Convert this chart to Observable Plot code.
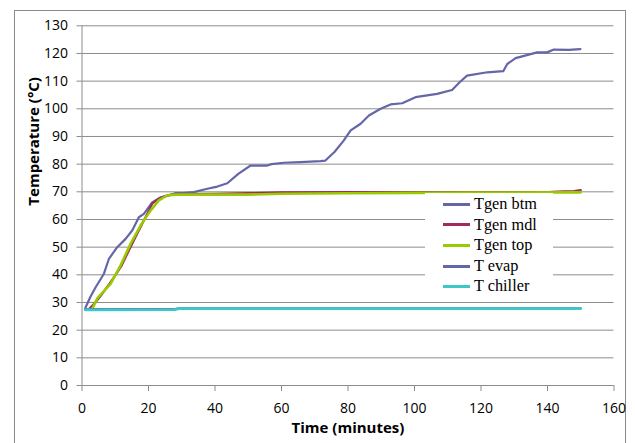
<!DOCTYPE html>
<html><head><meta charset="utf-8">
<script src="https://cdn.jsdelivr.net/npm/d3@7"></script>
<script src="https://cdn.jsdelivr.net/npm/@observablehq/plot@0.6"></script>
<style>
html,body{margin:0;padding:0;background:#fff;overflow:hidden;width:635px;height:443px;}
#wrap{position:relative;width:635px;height:443px;}
#border{position:absolute;left:14px;top:10px;width:612px;height:460px;border:1px solid #8a8a8a;box-sizing:border-box;}
#chart{position:absolute;left:0;top:0;}
#legend{position:absolute;left:425px;top:193px;width:128px;height:103px;background:#fff;font-family:"Liberation Serif","Times New Roman",serif;font-size:16.3px;color:#000;}
.item{position:absolute;left:18px;height:20px;line-height:20px;white-space:nowrap;}
.sw{display:inline-block;width:27px;height:3px;vertical-align:middle;margin-right:4px;position:relative;top:-1px;}
</style></head>
<body><div id="wrap"><div id="border"></div><div id="chart"></div><div id="legend"></div></div>
<script>
const seriesNames = ["Tgen btm","Tgen mdl","Tgen top","T evap","T chiller"];
const seriesColors = ["#6466A8","#A02A60","#99CC00","#6466A8","#3CC8C8"];
const xTicks = [0,20,40,60,80,100,120,140,160];
const yTicks = [0,10,20,30,40,50,60,70,80,90,100,110,120,130];

const btmX = [1,2.5,4.1,6.6,8.1,10.6,13.1,15.1,17.1,18.6,21.1,23.6,25.6,28,30.6,33.6,37.7,40.7,43.7,47,50.7,55.7,57,60.7,65.7,71.7,73.2,76,78.7,80.8,83.8,86.3,89.8,92.8,96.3,100.3,106.8,111.3,113.5,115.8,121.9,126.7,127.9,130.4,136.9,139.9,141.9,146.4,149.9];
const btmY = [28,32,35.5,40.4,45.8,50,53,56,60.8,62,66.2,68,68.5,69.5,69.5,69.9,71.1,71.9,73.1,76.5,79.5,79.5,80,80.5,80.7,81.1,81.3,84.5,88.5,92.2,94.6,97.6,100,101.6,102,104.2,105.4,106.8,109.5,112,113.2,113.6,116.2,118.3,120.4,120.4,121.4,121.3,121.6];
const mdlX = [2,4,6,8.1,10.6,12,14.1,16.6,19.6,21.1,23.1,25,27,30,40,50,60,80,100,120,140,145,148,150];
const mdlY = [27.5,30,33,36.5,40.9,43.5,48.8,54.8,62,65.7,67.5,68.5,69,69.2,69.3,69.5,69.8,69.9,69.9,69.9,69.9,70.2,70.3,70.6];
const topX = [3,4.6,6.5,8.6,11.6,14.6,17.6,20.6,23.1,25.6,28,40,50,60,80,100,120,150];
const topY = [27.5,31.5,34,36.7,43.4,51.2,57.8,63.2,66.9,68.7,69,69,69,69.3,69.5,69.6,69.7,69.8];
const evapX = [1,28,29,150];
const evapY = [27.6,27.6,27.9,27.9];
const chillerX = [1,28,29,150];
const chillerY = [27.3,27.4,27.8,27.8];

const seriesX = [btmX,mdlX,topX,evapX,chillerX];
const seriesY = [btmY,mdlY,topY,evapY,chillerY];
const widths = [2.2,2.2,2.6,2.2,2.8];

const lineMarks = seriesNames.map((name,i)=>{
  const data = seriesX[i].map((x,j)=>({x, y: seriesY[i][j]}));
  return Plot.line(data,{x:"x",y:"y",stroke:seriesColors[i],strokeWidth:widths[i],curve:"linear"});
});

const chart = Plot.plot({
  width:635, height:443,
  marginLeft:81.5, marginRight:21.5, marginTop:25.3, marginBottom:58,
  style:{fontFamily:"'Open Sans', sans-serif", fontSize:"14px", color:"#000", background:"transparent"},
  x:{domain:[0,160]},
  y:{domain:[0,130]},
  marks:[
    Plot.gridY(yTicks,{stroke:"#8c8c8c",strokeOpacity:1,strokeWidth:1}),
    Plot.ruleX([0],{stroke:"#8c8c8c"}),
    Plot.ruleY([0],{stroke:"#8c8c8c"}),
    Plot.axisX(xTicks,{tickSize:6,tickPadding:12,stroke:"#8c8c8c",label:null,fill:"#000",fontSize:14}),
    Plot.axisY(yTicks,{tickSize:5,tickPadding:9,stroke:"#8c8c8c",label:null,fill:"#000",fontSize:14}),
    ...lineMarks,
    Plot.text(["Time (minutes)"],{frameAnchor:"bottom",dy:47,fontWeight:"bold",fontSize:15,fill:"#000"}),
    Plot.text(["Temperature (°C)"],{frameAnchor:"left",rotate:-90,dx:-47.5,fontWeight:"bold",fontSize:15,fill:"#000"})
  ]
});
document.getElementById("chart").appendChild(chart);

const leg = document.getElementById("legend");
seriesNames.forEach((n,i)=>{
  const d = document.createElement("div");
  d.className="item";
  d.style.top = (1 + i*20.6) + "px";
  d.innerHTML = `<span class="sw" style="background:${seriesColors[i]}"></span>${n}`;
  leg.appendChild(d);
});
</script></body></html>
